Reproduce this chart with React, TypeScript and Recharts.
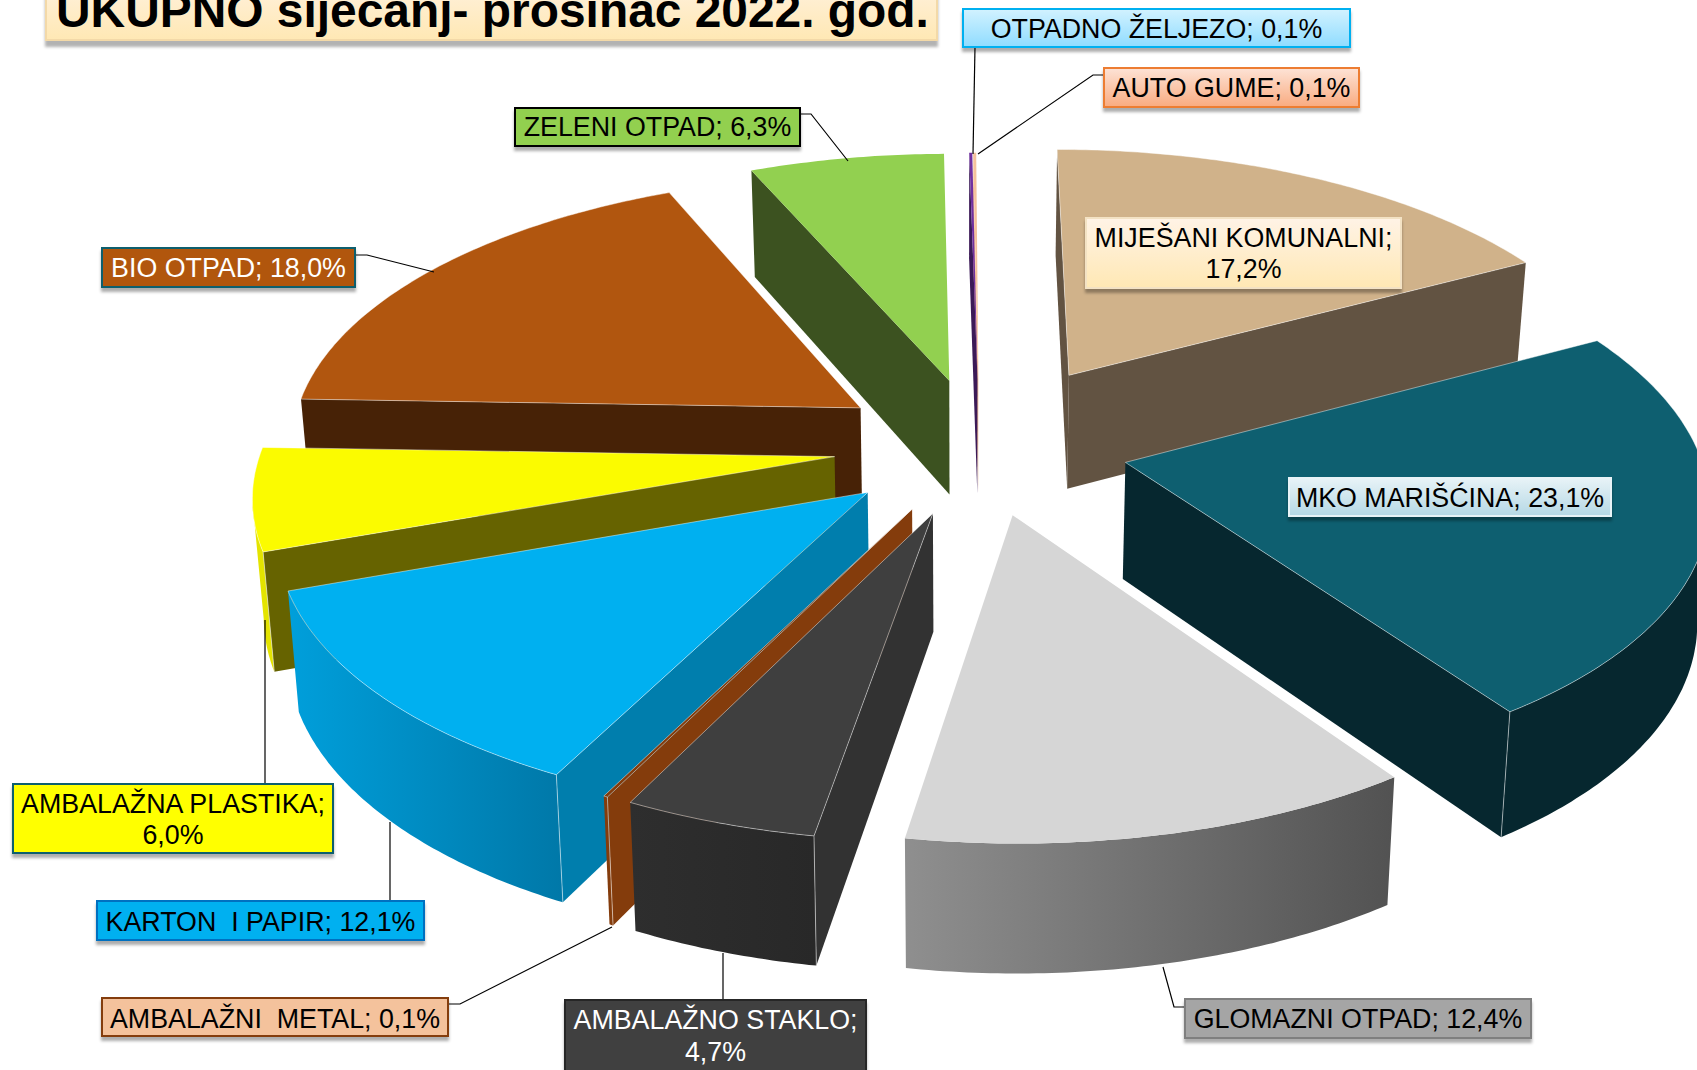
import React from 'react';
import { PieChart, Pie } from 'recharts';

// Values, listed counter-clockwise starting with the first slice on screen
const sliceNames = [
  'MIJEŠANI KOMUNALNI', 'AUTO GUME', 'OTPADNO ŽELJEZO', 'ZELENI OTPAD', 'BIO OTPAD',
  'AMBALAŽNA PLASTIKA', 'KARTON  I PAPIR', 'AMBALAŽNI  METAL', 'AMBALAŽNO STAKLO',
  'GLOMAZNI OTPAD', 'MKO MARIŠĆINA',
];
const sliceValues = [17.2, 0.1, 0.1, 6.3, 18.0, 6.0, 12.1, 0.1, 4.7, 12.4, 23.1];
const chartData = sliceNames.map((name, i) => ({ name, value: sliceValues[i] }));

const W = 1697;
const H = 1070;
const FONT = '"Liberation Sans", Arial, sans-serif';
const TITLE = 'UKUPNO siječanj- prosinac 2022. god.';

// Perspective projection of the flat pie into the tilted view
const SQUASH = 0.471;
const PERSPECTIVE = 0.1225;
const SHEAR = 0.0057;
const EXPLODE = 0.255;

type Style = { top: string; side: string; outer: string; edge?: number };
const STYLE: Record<string, Style> = {
  'MIJEŠANI KOMUNALNI': { top: '#d0b28a', side: '#625342', outer: '#625342' },
  'AUTO GUME': { top: '#f4c29c', side: '#f4c29c', outer: '#f4c29c', edge: 0 },
  'OTPADNO ŽELJEZO': { top: '#7030a0', side: '#3c1a57', outer: '#3c1a57', edge: 0 },
  'ZELENI OTPAD': { top: '#92d050', side: '#3c5220', outer: '#3c5220', edge: 0 },
  'BIO OTPAD': { top: '#b1560f', side: '#472206', outer: '#472206' },
  'AMBALAŽNA PLASTIKA': { top: '#fbfb00', side: '#666300', outer: '#e4e400' },
  'KARTON  I PAPIR': { top: '#00b0f0', side: '#007ead', outer: 'url(#wallKarton)' },
  'AMBALAŽNI  METAL': { top: '#843c0c', side: '#843c0c', outer: '#843c0c' },
  'AMBALAŽNO STAKLO': { top: '#3f3f3f', side: '#323232', outer: 'url(#wallStaklo)' },
  'GLOMAZNI OTPAD': { top: '#d6d6d6', side: '#525252', outer: 'url(#wallGlomazni)', edge: 0 },
  'MKO MARIŠĆINA': { top: '#0e5f70', side: '#06272f', outer: '#06272f' },
};
const EXPLOSION: Record<string, number> = { 'MIJEŠANI KOMUNALNI': 1.24, 'MKO MARIŠĆINA': 1.02 };

type Box = {
  x: number; y: number; w: number; h: number; fill: string; stroke: string;
  color?: string; lines: number[]; leader?: number[][];
};
const LABELS: Record<string, Box> = {
  'MIJEŠANI KOMUNALNI': { x: 1086, y: 218, w: 315, h: 70, fill: 'url(#boxCream)', stroke: '#f3e2c4', lines: [247, 278] },
  'AUTO GUME': { x: 1104, y: 68, w: 255, h: 39, fill: 'url(#boxOrange)', stroke: '#ed7d31', lines: [97],
    leader: [[1104, 75], [1093, 75], [978, 154]] },
  'OTPADNO ŽELJEZO': { x: 963, y: 9, w: 387, h: 38, fill: 'url(#boxBlue)', stroke: '#00b0f0', lines: [38],
    leader: [[975, 47], [973, 154]] },
  'ZELENI OTPAD': { x: 515, y: 108, w: 285, h: 38, fill: '#92d050', stroke: '#000000', lines: [136],
    leader: [[800, 114], [811, 114], [848, 161]] },
  'BIO OTPAD': { x: 102, y: 248, w: 253, h: 39, fill: '#b1560f', stroke: '#0f5e6e', color: '#ffffff', lines: [277],
    leader: [[355, 255], [367, 255], [434, 272]] },
  'AMBALAŽNA PLASTIKA': { x: 13, y: 784, w: 320, h: 69, fill: '#ffff00', stroke: '#0f5e6e', lines: [813, 844],
    leader: [[265, 784], [265, 620]] },
  'KARTON  I PAPIR': { x: 97, y: 901, w: 327, h: 39, fill: '#00b0f0', stroke: '#0070c0', lines: [931],
    leader: [[390, 901], [390, 822]] },
  'AMBALAŽNI  METAL': { x: 102, y: 998, w: 346, h: 38, fill: '#f4c29c', stroke: '#843c0c', lines: [1028],
    leader: [[448, 1004], [460, 1004], [612, 927]] },
  'AMBALAŽNO STAKLO': { x: 565, y: 1000, w: 301, h: 90, fill: '#3f3f3f', stroke: '#262626', color: '#ffffff', lines: [1029, 1061],
    leader: [[723, 1000], [723, 953]] },
  'GLOMAZNI OTPAD': { x: 1185, y: 999, w: 346, h: 39, fill: '#a5a5a5', stroke: '#7f7f7f', lines: [1028],
    leader: [[1185, 1007], [1174, 1007], [1163, 967]] },
  'MKO MARIŠĆINA': { x: 1289, y: 478, w: 322, h: 38, fill: 'url(#boxPale)', stroke: '#e8f3f7', lines: [507] },
};

type Pt = { x: number; y: number };
const toPath = (pts: Pt[]) => 'M' + pts.map((p) => `${p.x.toFixed(1)},${p.y.toFixed(1)}`).join('L') + 'Z';

// Drop a point on the top face to the bottom of the solid
const drop = (p: Pt): Pt => ({
  x: p.x - (p.x - 963) * 0.016,
  y: p.y + 108 + (p.y - 216) * 0.035,
});

function SliceShape(props: any) {
  const { cx, cy, outerRadius: R, startAngle, endAngle, midAngle, name } = props;
  const sliceName = name ?? props.payload?.name;
  const style = STYLE[sliceName];
  if (!style) return null;
  const rad = (d: number) => (d * Math.PI) / 180;
  const mid = rad(90 - midAngle);
  const ex = (EXPLOSION[sliceName] ?? 1) * EXPLODE;
  const gx0 = ex * Math.sin(mid);
  const gy0 = ex * Math.cos(mid);
  const view = (gx: number, gy: number): Pt => {
    const d = 1 + PERSPECTIVE * gy;
    return {
      x: cx + (R * (gx - SHEAR * Math.max(gy, 0))) / d,
      y: cy - (R * SQUASH * gy) / d,
    };
  };
  const rim = (deg: number): Pt => view(gx0 + Math.sin(rad(deg)), gy0 + Math.cos(rad(deg)));
  const t1 = 90 - endAngle;
  const t2 = 90 - startAngle;
  const steps = Math.max(2, Math.ceil((t2 - t1) * 1.5));
  const arc: Pt[] = [];
  for (let i = 0; i <= steps; i++) arc.push(rim(t1 + ((t2 - t1) * i) / steps));
  const apex = view(gx0, gy0);
  const first = arc[0];
  const last = arc[arc.length - 1];

  // Walls that face the viewer run from right to left when going round clockwise
  const startVisible = first.x < apex.x;
  const endVisible = apex.x < last.x;
  const run: Pt[] = [];
  let firstVisibleIdx = -1;
  let lastVisibleIdx = -1;
  for (let i = 0; i < arc.length - 1; i++) {
    if (arc[i + 1].x < arc[i].x) {
      if (firstVisibleIdx < 0) firstVisibleIdx = i;
      lastVisibleIdx = i + 1;
    }
  }
  if (firstVisibleIdx >= 0) {
    for (let i = firstVisibleIdx; i <= lastVisibleIdx; i++) run.push(arc[i]);
  }
  const outerPath = run.length > 1 ? toPath([...run, ...run.slice().reverse().map(drop)]) : null;
  const edgeOpacity = 0.45;
  const corner = (p: Pt, key: string) => {
    const b = drop(p);
    return <line key={key} x1={p.x} y1={p.y} x2={b.x} y2={b.y} stroke="#ffffff" strokeOpacity={0.5} strokeWidth={1} />;
  };
  const hasEdge = style.edge !== 0;
  return (
    <g>
      {outerPath && <path d={outerPath} fill={style.outer} />}
      {startVisible && <path d={toPath([apex, first, drop(first), drop(apex)])} fill={style.side} />}
      {endVisible && <path d={toPath([last, apex, drop(apex), drop(last)])} fill={style.side} />}
      {hasEdge && startVisible && firstVisibleIdx === 0 && corner(first, 'c1')}
      {hasEdge && endVisible && lastVisibleIdx === arc.length - 1 && corner(last, 'c2')}
      <path
        d={toPath([apex, ...arc])}
        fill={style.top}
        stroke={hasEdge ? '#ffffff' : 'none'}
        strokeOpacity={edgeOpacity}
        strokeWidth={1}
      />
    </g>
  );
}

function SliceLabel(props: any) {
  const name = props.name ?? props.payload?.name;
  const box = LABELS[name];
  if (!box) return null;
  const pct = `${Number(props.value).toFixed(1).replace('.', ',')}%`;
  const lines = box.lines.length > 1 ? [`${name};`, pct] : [`${name}; ${pct}`];
  const midX = box.x + box.w / 2;
  return (
    <g>
      {box.leader && (
        <polyline
          points={box.leader.map((p) => p.join(',')).join(' ')}
          fill="none"
          stroke="#000000"
          strokeWidth={1.2}
        />
      )}
      <rect
        x={box.x}
        y={box.y}
        width={box.w}
        height={box.h}
        fill={box.fill}
        stroke={box.stroke}
        strokeWidth={2}
        filter="url(#boxShadow)"
      />
      {lines.map((text, i) => (
        <text
          key={i}
          x={midX}
          y={box.lines[i]}
          textAnchor="middle"
          fontFamily={FONT}
          fontSize={26.8}
          fill={box.color ?? '#000000'}
          style={{ whiteSpace: 'pre' }}
        >
          {text}
        </text>
      ))}
    </g>
  );
}

export default function App() {
  const startAngle = 90 - sliceValues[0] * 3.6;
  return (
    <div style={{ position: 'absolute', left: 0, top: 0, width: W, height: H, overflow: 'hidden', background: '#ffffff' }}>
      <PieChart width={W} height={H} margin={{ top: 0, right: 0, bottom: 0, left: 0 }}>
        <defs>
          <linearGradient id="wallKarton" x1="0" y1="0" x2="1" y2="0">
            <stop offset="0" stopColor="#009fdb" />
            <stop offset="1" stopColor="#0078a8" />
          </linearGradient>
          <linearGradient id="wallStaklo" x1="0" y1="0" x2="1" y2="0">
            <stop offset="0" stopColor="#2e2e2e" />
            <stop offset="1" stopColor="#282828" />
          </linearGradient>
          <linearGradient id="wallGlomazni" x1="0" y1="0" x2="1" y2="0">
            <stop offset="0" stopColor="#8f8f8f" />
            <stop offset="1" stopColor="#525252" />
          </linearGradient>
          <linearGradient id="boxCream" x1="0" y1="0" x2="0" y2="1">
            <stop offset="0" stopColor="#fff3e6" />
            <stop offset="1" stopColor="#ffe8b4" />
          </linearGradient>
          <linearGradient id="boxOrange" x1="0" y1="0" x2="0" y2="1">
            <stop offset="0" stopColor="#fde3d6" />
            <stop offset="1" stopColor="#f9ab80" />
          </linearGradient>
          <linearGradient id="boxBlue" x1="0" y1="0" x2="0" y2="1">
            <stop offset="0" stopColor="#d2f2ff" />
            <stop offset="1" stopColor="#8fdcff" />
          </linearGradient>
          <linearGradient id="boxPale" x1="0" y1="0" x2="0" y2="1">
            <stop offset="0" stopColor="#e8f3f7" />
            <stop offset="1" stopColor="#b5d8e5" />
          </linearGradient>
          <filter id="boxShadow" x="-5%" y="-20%" width="110%" height="150%">
            <feDropShadow dx="0" dy="4" stdDeviation="1.6" floodColor="#000000" floodOpacity="0.32" />
          </filter>
          <filter id="titleShadow" x="-3%" y="-20%" width="106%" height="160%">
            <feDropShadow dx="0" dy="6" stdDeviation="1.8" floodColor="#000000" floodOpacity="0.3" />
          </filter>
        </defs>
        <Pie
          data={chartData}
          dataKey="value"
          nameKey="name"
          cx={979.5}
          cy={446}
          innerRadius={0}
          outerRadius={572.5}
          startAngle={startAngle}
          endAngle={startAngle + 360}
          stroke="none"
          isAnimationActive={false}
          shape={SliceShape}
          label={SliceLabel}
          labelLine={false}
        />
        <g>
          <rect x={46} y={-30} width={891} height={70} fill="url(#boxCream)" stroke="#f3d9a8" strokeWidth={2} filter="url(#titleShadow)" />
          <text x={56} y={27} fontFamily={FONT} fontWeight={700} fontSize={47.9} fill="#000000">
            {TITLE}
          </text>
        </g>
      </PieChart>
    </div>
  );
}
